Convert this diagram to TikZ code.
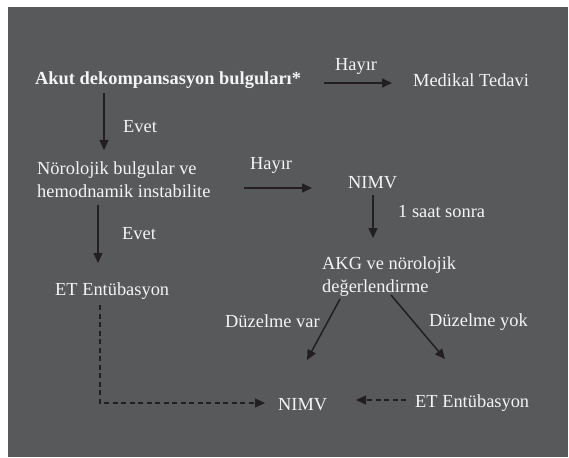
\documentclass[tikz,border=0pt]{standalone}
\usepackage{fontspec}
\setmainfont{Liberation Serif}
\usepackage{xcolor}
\usepackage{tikz}
\usetikzlibrary{arrows.meta}
\definecolor{panel}{HTML}{58595B}
\definecolor{ink}{HTML}{231F20}
\definecolor{paper}{HTML}{F4F4F4}
\begin{document}
\begin{tikzpicture}[x=1pt,y=-1pt,
		txt/.style={text=paper,inner sep=0pt,font=\fontsize{18.4}{23}\selectfont},
		arr/.style={draw=ink,line width=1.5pt,-{Triangle[length=10pt,width=9pt]}},
		darr/.style={arr,line width=1.3pt,dash pattern=on 5pt off 3.5pt}]
		\useasboundingbox (0,0) rectangle (569,457);
		\fill[white] (0,0) rectangle (569,457);
		\fill[panel] (8,7) rectangle (568,457);
		% boxes of the flow
		\node[txt,anchor=base west] (akut) at (35,85) {\bfseries Akut dekompansasyon bulguları*};
		\node[txt,anchor=base west] (medikal) at (413,87) {Medikal Tedavi};
		\node[txt,anchor=north west,align=left] (noro) at (37,161.4) {Nörolojik bulgular ve\\hemodnamik instabilite};
		\node[txt,anchor=base west] (nimvA) at (348,188) {NIMV};
		\node[txt,anchor=base west] (etA) at (55,295) {ET Entübasyon};
		\node[txt,anchor=north west,align=left] (akg) at (322,256.4) {AKG ve nörolojik\\değerlendirme};
		\node[txt,anchor=base west] (nimvB) at (278,410) {NIMV};
		\node[txt,anchor=base west] (etB) at (415,407) {ET Entübasyon};
		% labels
		\node[txt,anchor=base west] (hayirA) at (335,71) {Hayır};
		\node[txt,anchor=base west] (evetA) at (123,132) {Evet};
		\node[txt,anchor=base west] (hayirB) at (250,169) {Hayır};
		\node[txt,anchor=base west] (saat) at (398,217) {1 saat sonra};
		\node[txt,anchor=base west] (evetB) at (122,239) {Evet};
		\node[txt,anchor=base west] (duzvar) at (225,327) {Düzelme var};
		\node[txt,anchor=base west] (duzyok) at (429,326) {Düzelme yok};
		% arrows
		\draw[arr] ([xshift=289pt,yshift=2pt]akut.base west) -- ([xshift=-21pt,yshift=4pt]medikal.base west);
		\draw[arr] ([xshift=69pt,yshift=-8pt]akut.base west) -- ([xshift=67pt,yshift=11.4pt]noro.north west);
		\draw[arr] ([xshift=207pt,yshift=-26.6pt]noro.north west) -- ([xshift=-36pt]nimvA.base west);
		\draw[arr] ([xshift=25pt,yshift=-7pt]nimvA.base west) -- ([xshift=51pt,yshift=18.4pt]akg.north west);
		\draw[arr] ([xshift=61pt,yshift=-43.6pt]noro.north west) -- ([xshift=43pt,yshift=32pt]etA.base west);
		\draw[arr] ([xshift=18pt,yshift=-42.6pt]akg.north west) -- ([xshift=29pt,yshift=50pt]nimvB.base west);
		\draw[arr] ([xshift=69pt,yshift=-38.6pt]akg.north west) -- ([xshift=30pt,yshift=48pt]etB.base west);
		\draw[darr] ([xshift=-9pt,yshift=7pt]etB.base west) -- ([xshift=78pt,yshift=10pt]nimvB.base west);
		\draw[darr] ([xshift=45pt,yshift=-10pt]etA.base west) |- ([xshift=-13pt,yshift=7pt]nimvB.base west);
	\end{tikzpicture}
\end{document}
